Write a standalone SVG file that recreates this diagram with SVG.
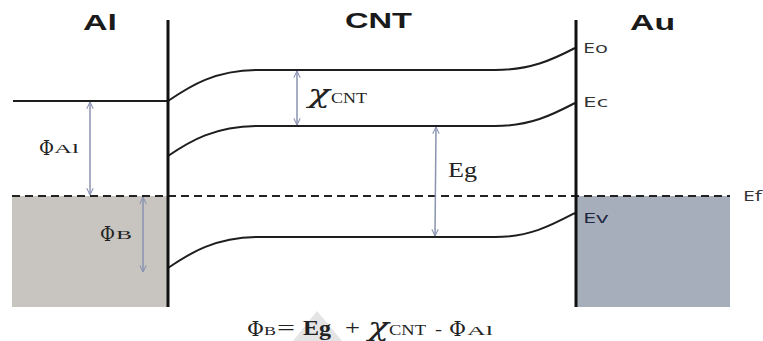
<svg xmlns="http://www.w3.org/2000/svg" width="763" height="341" viewBox="0 0 763 341">
<defs>
<style>
.title{font-family:"Liberation Sans",Arial,sans-serif;font-weight:bold;font-size:22px;fill:#1a1a1a}
.lvl{font-family:"Open Sans","Liberation Sans",sans-serif;font-size:15px;fill:#333}
.ser{font-family:"Liberation Serif","Times New Roman",serif;fill:#222}
.gk{font-family:"DejaVu Serif","Liberation Serif",serif;fill:#222}
.chi{font-family:"DejaVu Serif","Liberation Serif",serif;font-style:italic;fill:#222}
.band{fill:none;stroke:#1e1e1e;stroke-width:2}
.wall{stroke:#111;stroke-width:3}
.arr{stroke:#8a93b0;stroke-width:1.5;fill:none;marker-start:url(#ah);marker-end:url(#ah)}
</style>
<marker id="ah" viewBox="0 0 10 10" refX="9.5" refY="5" markerWidth="8" markerHeight="8" markerUnits="userSpaceOnUse" orient="auto-start-reverse">
<path d="M1,1 L9.5,5 L1,9" fill="none" stroke="#8a93b0" stroke-width="1.3"/>
</marker>
</defs>
<rect width="763" height="341" fill="#fff"/>
<polygon points="293,341 317,311 342,341" fill="#e4e4e4"/>
<g id="al-metal">
<rect x="12" y="196" width="156" height="111" fill="#c8c5c0"/>
<line x1="13" y1="101" x2="168" y2="101" class="band"/>
<text class="title" x="83" y="30" textLength="34" lengthAdjust="spacingAndGlyphs">Al</text>
</g>
<g id="au-metal">
<rect x="576" y="196" width="154" height="111" fill="#a7aebb"/>
<text class="title" x="630" y="30" textLength="45" lengthAdjust="spacingAndGlyphs">Au</text>
</g>
<g id="cnt">
<text class="title" x="345" y="28" textLength="67" lengthAdjust="spacingAndGlyphs">CNT</text>
<path class="band" d="M168,101 C190,86 215,70 258,70 L495,70 C530,70 552,60 575,48"/>
<path class="band" d="M168,156 C190,141 215,126 258,126 L495,126 C530,126 552,115 575,103"/>
<path class="band" d="M168,268 C190,253 215,237 260,237 L495,237 C530,237 552,225 575,213"/>
</g>
<g id="ef-line">
<line x1="12" y1="196" x2="730" y2="196" stroke="#222" stroke-width="2" stroke-dasharray="8,5"/>
</g>
<g id="walls">
<line x1="168" y1="20" x2="168" y2="307" class="wall"/>
<line x1="576" y1="20" x2="576" y2="307" class="wall"/>
</g>
<g id="connectors">
<line class="arr" x1="90" y1="102" x2="90" y2="195"/>
<line class="arr" x1="143" y1="197" x2="143" y2="272"/>
<line class="arr" x1="297" y1="71" x2="297" y2="125"/>
<line class="arr" x1="436" y1="127" x2="435" y2="236"/>
</g>
<g id="labels">
<text class="lvl" x="583" y="53" textLength="25" lengthAdjust="spacingAndGlyphs">Eo</text>
<text class="lvl" x="583" y="107" textLength="25" lengthAdjust="spacingAndGlyphs">Ec</text>
<text class="lvl" x="583" y="223" textLength="25" lengthAdjust="spacingAndGlyphs" style="fill:#1d2640">Ev</text>
<text class="lvl" x="743" y="201" textLength="19" lengthAdjust="spacingAndGlyphs">Ef</text>
<text class="gk" x="39" y="155" font-size="20" textLength="15" lengthAdjust="spacingAndGlyphs">Φ</text>
<text class="ser" x="54" y="153" font-size="13" textLength="25" lengthAdjust="spacingAndGlyphs">Al</text>
<text class="gk" x="100" y="241" font-size="20" textLength="15" lengthAdjust="spacingAndGlyphs">Φ</text>
<text class="ser" x="116" y="239" font-size="13" textLength="16" lengthAdjust="spacingAndGlyphs">B</text>
<text class="chi" x="308" y="103" font-size="26" textLength="22" lengthAdjust="spacingAndGlyphs">χ</text>
<text class="ser" x="331" y="103" font-size="14" textLength="36" lengthAdjust="spacingAndGlyphs">CNT</text>
<text class="ser" x="448" y="177" font-size="21" textLength="29" lengthAdjust="spacingAndGlyphs">Eg</text>
</g>
<g id="formula">
<text class="gk" x="247" y="336" font-size="20" textLength="17" lengthAdjust="spacingAndGlyphs">Φ</text>
<text class="ser" x="264" y="335" font-size="13" textLength="12" lengthAdjust="spacingAndGlyphs">B</text>
<text class="ser" x="277" y="335" font-size="22" textLength="18" lengthAdjust="spacingAndGlyphs">=</text>
<text class="ser" x="303" y="335" font-size="21" font-weight="bold" textLength="28" lengthAdjust="spacingAndGlyphs">Eg</text>
<text class="ser" x="345" y="335" font-size="21" textLength="15" lengthAdjust="spacingAndGlyphs">+</text>
<text class="chi" x="368" y="336" font-size="26" textLength="21" lengthAdjust="spacingAndGlyphs">χ</text>
<text class="ser" x="389" y="335" font-size="14" textLength="37" lengthAdjust="spacingAndGlyphs">CNT</text>
<text class="ser" x="435" y="335" font-size="16" textLength="7" lengthAdjust="spacingAndGlyphs">-</text>
<text class="gk" x="449" y="336" font-size="20" textLength="17" lengthAdjust="spacingAndGlyphs">Φ</text>
<text class="ser" x="467" y="335" font-size="13" textLength="26" lengthAdjust="spacingAndGlyphs">Al</text>
</g>
</svg>
